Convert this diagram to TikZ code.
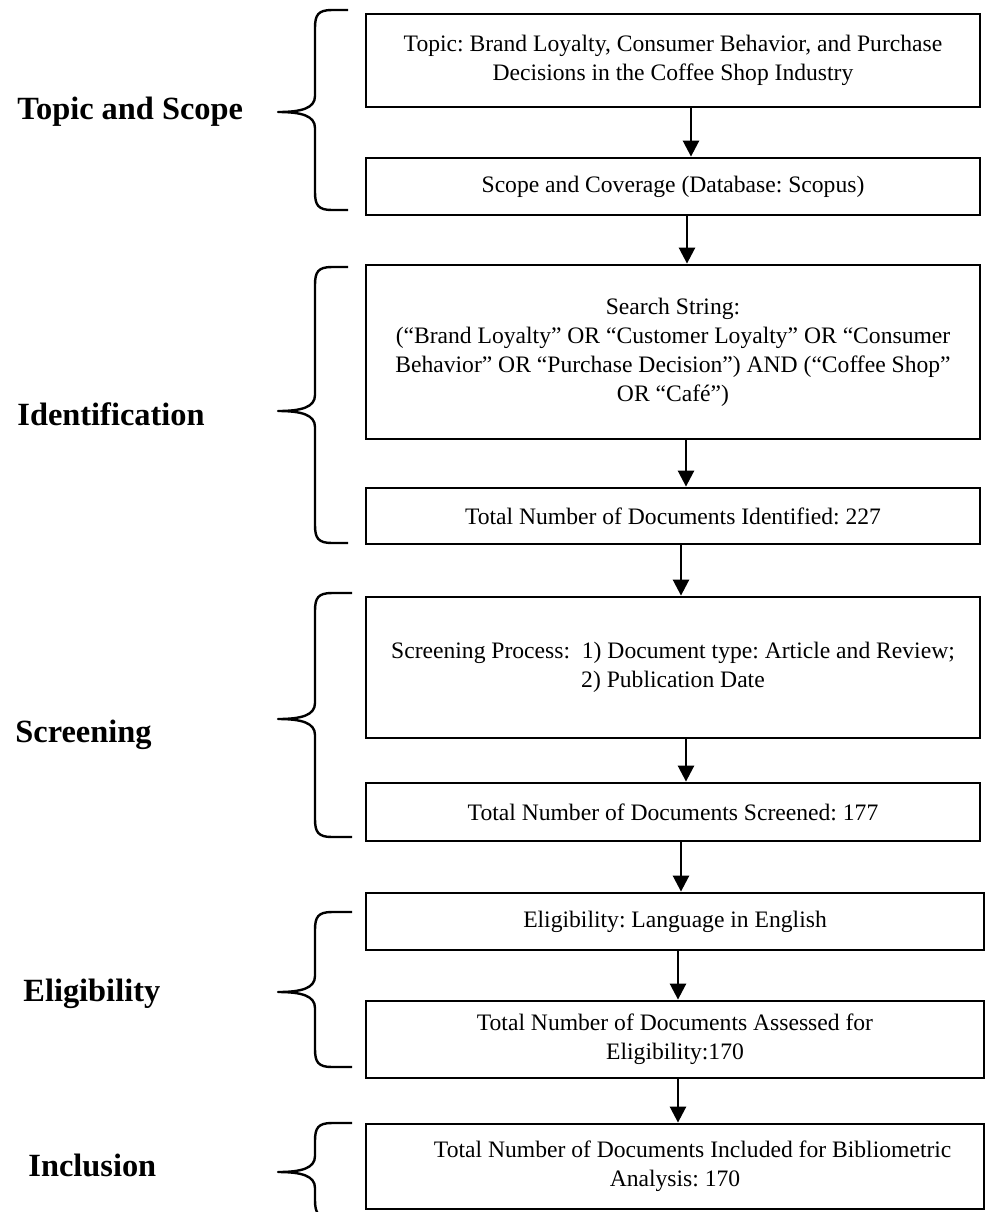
\documentclass[tikz,border=0pt]{standalone}
\usepackage{fontspec}
\setmainfont{Liberation Serif}
\usetikzlibrary{arrows.meta}
\frenchspacing

\tikzset{
  stagebox/.style={draw, line width=1.4pt, align=center, inner sep=2pt,
    font=\fontsize{11.8}{14.5}\selectfont},
  stagelabel/.style={anchor=west, inner sep=0pt, font=\fontsize{16.2}{19}\selectfont\bfseries},
  flow/.style={-{Triangle[width=8pt,length=8pt]}, line width=1.3pt},
  curly/.style={line width=1.2pt, line join=round}
}

\begin{document}
\begin{tikzpicture}[x=0.5pt,y=-0.5pt]
\useasboundingbox (0,0) rectangle (987,1212);

% boxes of the flow
\node[stagebox, minimum width=307pt, minimum height=46.5pt] (topic) at (673,60.5)
  {Topic: Brand Loyalty, Consumer Behavior, and Purchase\\Decisions in the Coffee Shop Industry};
\node[stagebox, minimum width=307pt, minimum height=28.5pt] (scope) at (673,186.5)
  {Scope and Coverage (Database: Scopus)};
\node[stagebox, minimum width=307pt, minimum height=87pt] (search) at (673,352)
  {Search String:\\(“Brand Loyalty” OR “Customer Loyalty” OR “Consumer\\Behavior” OR “Purchase Decision”) AND (“Coffee Shop”\\OR “Café”)};
\node[stagebox, minimum width=307pt, minimum height=28pt] (identified) at (673,516)
  {Total Number of Documents Identified: 227};
\node[stagebox, minimum width=307pt, minimum height=70.5pt] (process) at (673,667.5)
  {Screening Process:\ \ 1) Document type: Article and Review;\\2) Publication Date};
\node[stagebox, minimum width=307pt, minimum height=29pt] (screened) at (673,812)
  {Total Number of Documents Screened: 177};
\node[stagebox, minimum width=309pt, minimum height=28.5pt] (english) at (675,921.5)
  {Eligibility: Language in English};
\node[stagebox, minimum width=309pt, minimum height=38.5pt] (assessed) at (675,1039.5)
  {Total Number of Documents Assessed for\\Eligibility:170};
\node[stagebox, minimum width=309pt, minimum height=42.5pt] (included) at (675,1166.5)
  {\hspace*{1.5em}Total Number of Documents Included for Bibliometric\\Analysis: 170};

% arrows
\draw[flow] ([xshift=9pt]topic.south) -- ([xshift=9pt]scope.north);
\draw[flow] ([xshift=7pt]scope.south) -- ([xshift=7pt]search.north);
\draw[flow] ([xshift=6.5pt]search.south) -- ([xshift=6.5pt]identified.north);
\draw[flow] ([xshift=4pt]identified.south) -- ([xshift=4pt]process.north);
\draw[flow] ([xshift=6.5pt]process.south) -- ([xshift=6.5pt]screened.north);
\draw[flow] ([xshift=4pt]screened.south) -- ([xshift=3pt]english.north);
\draw[flow] ([xshift=1.5pt]english.south) -- ([xshift=1.5pt]assessed.north);
\draw[flow] ([xshift=1.5pt]assessed.south) -- ([xshift=1.5pt]included.north);

% stage names
\node[stagelabel] (lbltopic) at (17,112) {Topic and Scope};
\node[stagelabel] (lblident) at (17,414) {Identification};
\node[stagelabel] (lblscreen) at (15,735) {Screening};
\node[stagelabel] (lbleligible) at (23,994) {Eligibility};
\node[stagelabel] (lblinclude) at (28,1165) {Inclusion};

% braces
\draw[curly] (348,10) -- (332,10) .. controls (318,10) and (315,15) .. (315,28) -- (315,96) .. controls (315,108) and (302,112) .. (278,112) .. controls (302,112) and (315,116) .. (315,128) -- (315,192) .. controls (315,205) and (318,210) .. (332,210) -- (348,210);
\draw[curly] (348,267) -- (332,267) .. controls (318,267) and (315,272) .. (315,285) -- (315,395) .. controls (315,407) and (302,411) .. (278,411) .. controls (302,411) and (315,415) .. (315,427) -- (315,525) .. controls (315,538) and (318,543) .. (332,543) -- (348,543);
\draw[curly] (352,593) -- (332,593) .. controls (318,593) and (315,598) .. (315,611) -- (315,703) .. controls (315,715) and (302,719) .. (278,719) .. controls (302,719) and (315,723) .. (315,735) -- (315,819) .. controls (315,832) and (318,837) .. (332,837) -- (352,837);
\draw[curly] (352,912) -- (332,912) .. controls (318,912) and (315,917) .. (315,930) -- (315,976) .. controls (315,988) and (302,992) .. (278,992) .. controls (302,992) and (315,996) .. (315,1008) -- (315,1049) .. controls (315,1062) and (318,1067) .. (332,1067) -- (352,1067);
\draw[curly] (352,1123) -- (332,1123) .. controls (318,1123) and (315,1128) .. (315,1141) -- (315,1156) .. controls (315,1168) and (302,1172) .. (278,1172) .. controls (302,1172) and (315,1176) .. (315,1188) -- (315,1200) .. controls (315,1213) and (318,1218) .. (332,1218) -- (352,1218);

\end{tikzpicture}
\end{document}
